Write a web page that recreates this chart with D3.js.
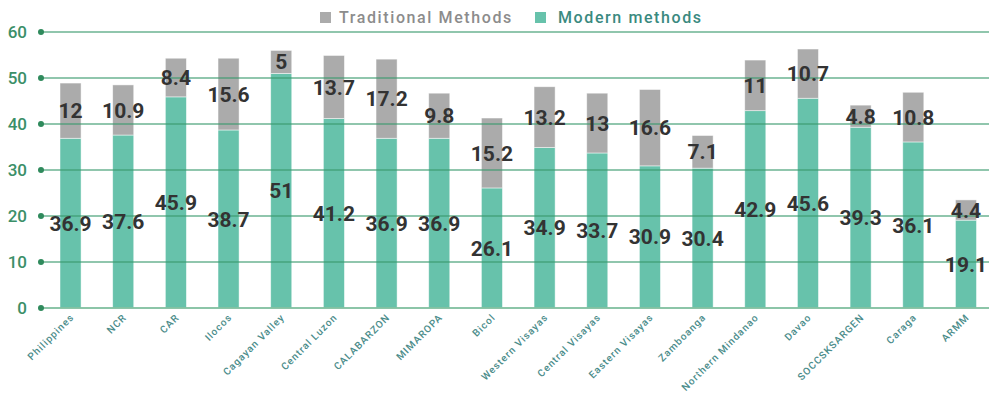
<!DOCTYPE html>
<html>
<head>
<meta charset="utf-8">
<script src="https://cdn.jsdelivr.net/npm/d3@7"></script>
<style>
  html, body { margin: 0; padding: 0; background: #fff; }
  svg { display: block; font-family: Roboto, "Noto Sans", sans-serif; }
</style>
</head>
<body>
<svg id="chart" width="989" height="393"></svg>
<script>
// Contraceptive method use by region (percent)
const regions = ["Philippines", "NCR", "CAR", "Ilocos", "Cagayan Valley", "Central Luzon",
  "CALABARZON", "MIMAROPA", "Bicol", "Western Visayas", "Central Visayas", "Eastern Visayas",
  "Zamboanga", "Northern Mindanao", "Davao", "SOCCSKSARGEN", "Caraga", "ARMM"];
const modernMethods = [36.9, 37.6, 45.9, 38.7, 51, 41.2, 36.9, 36.9, 26.1, 34.9, 33.7, 30.9,
  30.4, 42.9, 45.6, 39.3, 36.1, 19.1];
const traditionalMethods = [12, 10.9, 8.4, 15.6, 5, 13.7, 17.2, 9.8, 15.2, 13.2, 13, 16.6,
  7.1, 11, 10.7, 4.8, 10.8, 4.4];
const yTicks = [0, 10, 20, 30, 40, 50, 60];
const seriesNames = ["Traditional Methods", "Modern methods"];

const colModern = "#67c2ab";
const colTrad = "#ababab";
const colAxis = "#3b8f68";

const svg = d3.select("#chart");

const x = d3.scaleBand()
  .domain(regions)
  .range([44.2, 992.3])
  .paddingInner(0.6)
  .paddingOuter(0.3);

const y = d3.scaleLinear().domain([0, 60]).range([308, 32]);

const rows = regions.map((r, i) => ({
  region: r,
  modern: modernMethods[i],
  trad: traditionalMethods[i]
}));

// Stacked bars: modern at the base, traditional on top
const bars = svg.append("g");
bars.selectAll("rect.modern").data(rows).join("rect")
  .attr("class", "modern")
  .attr("x", d => x(d.region))
  .attr("width", x.bandwidth())
  .attr("y", d => y(d.modern))
  .attr("height", d => y(0) - y(d.modern))
  .attr("fill", colModern)
  .attr("stroke", "#ffffff").attr("stroke-opacity", 0.6).attr("stroke-width", 0.8);

bars.selectAll("rect.trad").data(rows).join("rect")
  .attr("class", "trad")
  .attr("x", d => x(d.region))
  .attr("width", x.bandwidth())
  .attr("y", d => y(d.modern + d.trad))
  .attr("height", d => y(d.modern) - y(d.modern + d.trad))
  .attr("fill", colTrad)
  .attr("stroke", "#ffffff").attr("stroke-opacity", 0.6).attr("stroke-width", 0.8);

// Gridlines with dot markers, drawn over the bars
const grid = svg.append("g");
grid.selectAll("line").data(yTicks).join("line")
  .attr("x1", 41).attr("x2", 989)
  .attr("y1", d => y(d)).attr("y2", d => y(d))
  .attr("stroke", d => d === 0 ? "#7fbf9f" : "#3a9a6e")
  .attr("stroke-opacity", d => d === 0 ? 0.9 : 0.75)
  .attr("stroke-width", d => d === 0 ? 2 : 1.3);
grid.selectAll("circle").data(yTicks).join("circle")
  .attr("cx", 41).attr("cy", d => y(d)).attr("r", 3)
  .attr("fill", "#2f8a5c");
grid.selectAll("text").data(yTicks).join("text")
  .attr("x", 27).attr("y", d => y(d))
  .attr("dy", "0.36em")
  .attr("text-anchor", "end")
  .attr("font-size", 17)
  .attr("font-weight", 500)
  .attr("fill", colAxis)
  .text(d => d);

// Value labels, centered in each segment
const labels = svg.append("g")
  .attr("font-size", 21)
  .attr("font-weight", 700)
  .attr("fill", "#333333")
  .attr("text-anchor", "middle");
labels.selectAll("text.m").data(rows).join("text")
  .attr("class", "m")
  .attr("x", d => x(d.region) + x.bandwidth() / 2)
  .attr("y", d => y(d.modern / 2))
  .attr("dy", "0.36em")
  .text(d => d.modern);
labels.selectAll("text.t").data(rows).join("text")
  .attr("class", "t")
  .attr("x", d => x(d.region) + x.bandwidth() / 2)
  .attr("y", d => y(d.modern + d.trad / 2))
  .attr("dy", "0.36em")
  .text(d => d.trad);

// Rotated region names
svg.append("g").selectAll("text").data(regions).join("text")
  .attr("transform", d => `translate(${x(d) + x.bandwidth() / 2 + 4},${318}) rotate(-45)`)
  .attr("text-anchor", "end")
  .attr("font-size", 10)
  .attr("font-weight", 500)
  .attr("letter-spacing", 1)
  .attr("fill", "#4a8c8a")
  .text(d => d);

// Legend
const legend = svg.append("g").attr("font-size", 16).attr("font-weight", 500).attr("letter-spacing", 1.6);
legend.append("rect").attr("x", 320).attr("y", 12).attr("width", 11).attr("height", 11).attr("fill", colTrad);
legend.append("text").attr("x", 339).attr("y", 17.5).attr("dy", "0.36em")
  .attr("fill", "#8c8c8c").text(seriesNames[0]);
legend.append("rect").attr("x", 535).attr("y", 12).attr("width", 11).attr("height", 11).attr("fill", colModern);
legend.append("text").attr("x", 558).attr("y", 17.5).attr("dy", "0.36em")
  .attr("fill", "#3a8a80").text(seriesNames[1]);
</script>
</body>
</html>
